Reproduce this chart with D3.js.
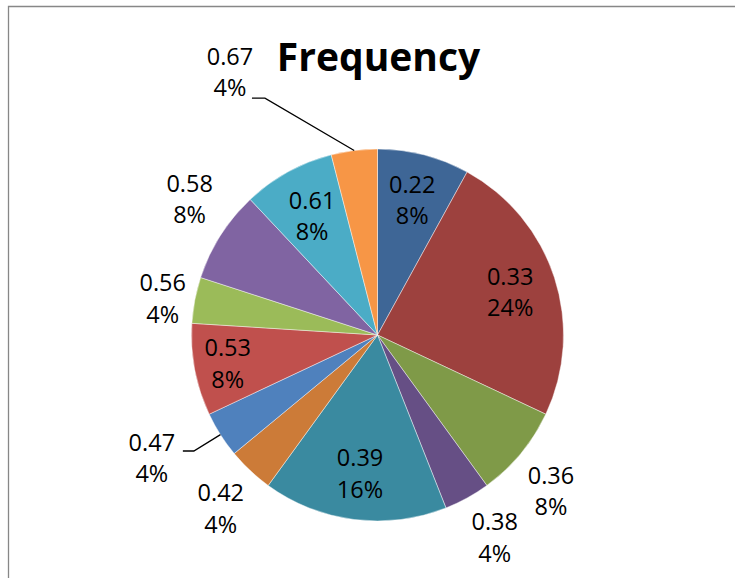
<!DOCTYPE html>
<html>
<head>
<meta charset="utf-8">
<script src="https://cdn.jsdelivr.net/npm/d3@7"></script>
<style>
  html, body { margin: 0; padding: 0; background: #fff; }
  svg { display: block; }
</style>
</head>
<body>
<svg id="chart" width="735" height="578"></svg>
<script>
// Frequency of each measured value (25 observations in total)
const categories = ["0.22", "0.33", "0.36", "0.38", "0.39", "0.42", "0.47", "0.53", "0.56", "0.58", "0.61", "0.67"];
const counts     = [2, 6, 2, 1, 4, 1, 1, 2, 1, 2, 2, 1];
const sliceColors = ["#3E6696", "#9D413E", "#7F9A48", "#664F85", "#3A8AA0", "#CC7B38",
                     "#4F81BD", "#C0504D", "#9BBB59", "#8064A2", "#4BACC6", "#F79646"];
const title = "Frequency";

// label placement: values whose labels sit inside the slice (with their radius as a
// fraction of the pie radius); the rest go outside, and two small slices get their
// labels pulled away with a leader line
const insideLabels = { "0.22": 0.75, "0.33": 0.75, "0.39": 0.75, "0.53": 0.82, "0.61": 0.73 };
const leaderLabels = {
  "0.67": { angle: 330.7, radius: 301.5 },
  "0.47": { angle: 241.4, radius: 257 }
};

const W = 735, H = 578;
const cx = 377.5, cy = 335, R = 186;
const fontFamily = "'Open Sans', 'Noto Sans', sans-serif";
const labelSize = 23.5, lineGap = 31.5;

const svg = d3.select("#chart");

// outer frame (continues past the right and bottom edges)
svg.append("path")
  .attr("d", `M8.5,${H + 5} V6.5 H${W + 5}`)
  .attr("fill", "none")
  .attr("stroke", "#878787")
  .attr("stroke-width", 1.3);

svg.append("text")
  .attr("x", cx + 1)
  .attr("y", 71)
  .attr("text-anchor", "middle")
  .attr("font-family", fontFamily)
  .attr("font-weight", 700)
  .attr("font-size", 39)
  .attr("fill", "#000")
  .text(title);

const total = d3.sum(counts);
const data = categories.map((c, i) => ({ cat: c, count: counts[i] }));

const pie = d3.pie().value(d => d.count).sort(null);
const arcs = pie(data);
const arc = d3.arc().innerRadius(0).outerRadius(R);
const color = d3.scaleOrdinal().domain(categories).range(sliceColors);
const pctFmt = d3.format(".0%");

const g = svg.append("g").attr("transform", `translate(${cx},${cy})`);

g.selectAll("path.slice")
  .data(arcs)
  .enter().append("path")
  .attr("class", "slice")
  .attr("d", arc)
  .attr("fill", d => color(d.data.cat))
  .attr("stroke", "#ffffff")
  .attr("stroke-opacity", 0.55)
  .attr("stroke-width", 0.8)
  .attr("stroke-linejoin", "round");

// two-line labels: value, then share of the total
const labels = g.selectAll("g.lbl")
  .data(arcs)
  .enter().append("g")
  .attr("class", "lbl");

labels.each(function(d) {
  const sel = d3.select(this);
  const lines = [d.data.cat, pctFmt(d.data.count / total)];
  lines.forEach((t, k) => {
    sel.append("text")
      .attr("x", 0)
      .attr("y", (k - 0.5) * lineGap)
      .attr("dy", "0.36em")
      .attr("text-anchor", "middle")
      .attr("font-family", fontFamily)
      .attr("font-size", labelSize)
      .attr("fill", "#000")
      .text(t);
  });
});

// which side/corner of a label box faces along a direction component
const side = v => (Math.abs(v) < 0.3 ? 0 : Math.sign(v));

labels.each(function(d) {
  const sel = d3.select(this);
  const mid = (d.startAngle + d.endAngle) / 2;
  const ux = Math.sin(mid), uy = -Math.cos(mid);
  const bb = this.getBBox();
  const hw = bb.width / 2, hh = lineGap;
  let x, y;
  if (insideLabels[d.data.cat] !== undefined) {
    const r = R * insideLabels[d.data.cat];
    x = ux * r; y = uy * r;
  } else if (leaderLabels[d.data.cat]) {
    const L = leaderLabels[d.data.cat];
    const a = L.angle * Math.PI / 180;
    x = Math.sin(a) * L.radius; y = -Math.cos(a) * L.radius;
  } else {
    // inner corner of the box sits just outside the rim
    const sx = side(ux), sy = side(uy);
    const r = R + 9;
    x = ux * r + sx * hw; y = uy * r + sy * hh;
  }
  sel.attr("transform", `translate(${x},${y})`);

  if (leaderLabels[d.data.cat]) {
    const edge = [ux * R, uy * R];
    let start, knee;
    if (d.data.cat === "0.67") {
      start = [x + 22, y + 26];
      knee = [x + 35, y + 26];
    } else {
      start = [x + 31, y - 7];
      knee = [x + 42, y - 7];
    }
    g.append("path")
      .attr("d", d3.line()([start, knee, edge]))
      .attr("fill", "none")
      .attr("stroke", "#000")
      .attr("stroke-width", 1.3);
  }
});
</script>
</body>
</html>
